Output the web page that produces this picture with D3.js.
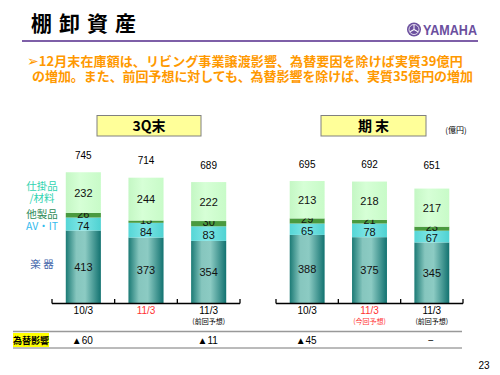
<!DOCTYPE html>
<html>
<head>
<meta charset="utf-8">
<script src="https://cdn.jsdelivr.net/npm/d3@7"></script>
<style>
  body { margin: 0; background: #fff; }
  text { font-family: "Liberation Sans", Arial, sans-serif; }
  .jp { font-family: "Noto Sans CJK JP", sans-serif; }
</style>
</head>
<body>
<div id="chart"></div>
<script>
const width = 500,
    height = 375;

// data
const groups = ["3Q末", "期 末"];
const periods = ["10/3", "11/3", "11/3"];
const periodNotes = [["", "", "(前回予想)"], ["", "(今回予想)", "(前回予想)"]];
const periodColors = ["#000", "#ff3333", "#000"];
const gakki = [[413, 373, 354], [388, 375, 345]];
const avit = [[74, 84, 83], [65, 78, 67]];
const other = [[26, 13, 30], [29, 21, 23]];
const wip = [[232, 244, 222], [213, 218, 217]];
const totals = [[745, 714, 689], [695, 692, 651]];
const fxImpact = [["▲60", "", "▲11"], ["▲45", "", "−"]];

// label nudge: AV-IT labels sit a bit low, thin stripe labels a bit high
const segments = [
    { key: "gakki", values: gakki, fill: "url(#gGakki)", dy: 0 },
    { key: "avit", values: avit, fill: "url(#gAvit)", dy: 1.5 },
    { key: "other", values: other, fill: "#4a9a3f", dy: -1.5 },
    { key: "wip", values: wip, fill: "url(#gWip)", dy: 0 }
];

const svg = d3.select("#chart").append("svg")
    .attr("width", width)
    .attr("height", height);

const defs = svg.append("defs");
function hGrad(id, stops) {
    const g = defs.append("linearGradient").attr("id", id)
        .attr("x1", "0%").attr("x2", "100%").attr("y1", "0%").attr("y2", "0%");
    stops.forEach(s => g.append("stop").attr("offset", s[0]).attr("stop-color", s[1]));
}
hGrad("gGakki", [["0%", "#1b7a75"], ["30%", "#86c6be"], ["55%", "#8ccbc3"], ["100%", "#127270"]]);
hGrad("gAvit", [["0%", "#55d6d6"], ["45%", "#7fe6e6"], ["100%", "#4fd2d2"]]);
hGrad("gWip", [["0%", "#c4f7c4"], ["40%", "#d6ffd6"], ["100%", "#c8fbc8"]]);

// header
svg.append("text").attr("class", "jp")
    .attr("x", 31).attr("y", 31)
    .style("font-size", "21px").style("font-weight", "bold")
    .style("letter-spacing", "7px")
    .text("棚卸資産");

svg.append("line")
    .attr("x1", 22).attr("x2", 478).attr("y1", 41).attr("y2", 41)
    .attr("stroke", "#7e5fa8").attr("stroke-width", 2);

// yamaha logo
const logo = svg.append("g").attr("transform", "translate(414,29.5)");
logo.append("circle").attr("r", 7).attr("fill", "#6b4f9e");
logo.append("circle").attr("r", 5).attr("fill", "none").attr("stroke", "#fff").attr("stroke-width", 0.8);
d3.range(3).forEach(i => {
    logo.append("line")
        .attr("x1", 0).attr("y1", 0).attr("x2", 0).attr("y2", -4.5)
        .attr("stroke", "#fff").attr("stroke-width", 1)
        .attr("transform", `rotate(${i * 120})`);
});
svg.append("text")
    .attr("x", 423).attr("y", 35)
    .attr("textLength", 54).attr("lengthAdjust", "spacingAndGlyphs")
    .style("font-size", "15px").style("font-weight", "bold")
    .style("fill", "#6b4f9e")
    .text("YAMAHA");

// bullet text
const bullet = svg.append("g").style("fill", "#ff9900").style("font-weight", "bold").style("font-size", "13px");
const l1 = bullet.append("text").attr("class", "jp").attr("x", 27).attr("y", 66);
l1.append("tspan").style("font-family", "DejaVu Sans").style("font-size", "14px").text("➢");
l1.append("tspan")
    .attr("textLength", 424).attr("lengthAdjust", "spacing")
    .text("12月末在庫額は、リビング事業譲渡影響、為替要因を除けば実質39億円");
bullet.append("text").attr("class", "jp").attr("x", 32).attr("y", 81)
    .attr("textLength", 441).attr("lengthAdjust", "spacing")
    .text("の増加。また、前回予想に対しても、為替影響を除けば、実質35億円の増加");

// scales
const y = d3.scaleLinear().domain([0, 800]).range([303, 303 - 800 * 0.1755]);
const panelRanges = [[52, 240], [276, 463]];
const boxes = [[97, 104], [321, 105]];

groups.forEach((grp, gi) => {
    const x = d3.scaleBand()
        .domain(d3.range(periods.length))
        .range(panelRanges[gi])
        .paddingInner(0.44)
        .paddingOuter(0.22);
    const panel = svg.append("g");

    // panel title box
    panel.append("rect")
        .attr("x", boxes[gi][0]).attr("y", 115.5)
        .attr("width", boxes[gi][1]).attr("height", 20.5)
        .attr("fill", "#ffff99").attr("stroke", "#808080").attr("stroke-width", 1);
    panel.append("text").attr("class", "jp")
        .attr("x", boxes[gi][0] + boxes[gi][1] / 2).attr("y", 131)
        .attr("text-anchor", "middle")
        .style("font-size", "14px").style("font-weight", "bold")
        .text(grp);

    // stacked bars
    const base = periods.map(() => 0);
    segments.forEach(seg => {
        periods.forEach((p, i) => {
            const v = seg.values[gi][i];
            const y0 = base[i], y1 = base[i] + v;
            base[i] = y1;
            panel.append("rect")
                .attr("x", x(i)).attr("width", x.bandwidth())
                .attr("y", y(y1)).attr("height", y(y0) - y(y1))
                .attr("fill", seg.fill);
            panel.append("text")
                .attr("x", x(i) + x.bandwidth() / 2)
                .attr("y", (y(y0) + y(y1)) / 2 + 4 + seg.dy)
                .attr("text-anchor", "middle")
                .style("font-size", "11px")
                .style("fill", "#111")
                .text(v);
        });
    });

    // totals
    periods.forEach((p, i) => {
        panel.append("text")
            .attr("x", x(i) + x.bandwidth() / 2)
            .attr("y", Math.min(y(totals[gi][i]) - 17, 165) + 3.5)
            .attr("text-anchor", "middle")
            .style("font-size", "10px")
            .text(totals[gi][i]);
    });

    // axis
    const r = x.range();
    panel.append("line")
        .attr("x1", r[0]).attr("x2", r[1]).attr("y1", y(0) + 0.5).attr("y2", y(0) + 0.5)
        .attr("stroke", "#000").attr("stroke-width", 1.3);
    const tickPos = periods.map((p, i) => x(i) - x.step() * x.paddingInner() / 2);
    tickPos[0] = r[0];
    tickPos.push(r[1]);
    tickPos.forEach(t => {
        panel.append("line")
            .attr("x1", t).attr("x2", t).attr("y1", y(0) + 0.5).attr("y2", y(0) - 4)
            .attr("stroke", "#000").attr("stroke-width", 1.3);
    });

    periods.forEach((p, i) => {
        const cx = x(i) + x.bandwidth() / 2;
        panel.append("text")
            .attr("x", cx).attr("y", 314)
            .attr("text-anchor", "middle")
            .style("font-size", "10px")
            .style("fill", periodColors[i])
            .text(p);
        if (periodNotes[gi][i]) {
            panel.append("text").attr("class", "jp")
                .attr("x", cx).attr("y", 323.5)
                .attr("text-anchor", "middle")
                .style("font-size", "7px")
                .style("fill", periodColors[i])
                .text(periodNotes[gi][i]);
        }
        if (fxImpact[gi][i]) {
            panel.append("text")
                .attr("x", cx - 1).attr("y", 344)
                .attr("text-anchor", "middle")
                .style("font-size", "10px")
                .text(fxImpact[gi][i]);
        }
    });
});

// legend labels at left
const legend = [
    { t: "仕掛品", y: 189.5, c: "#2fd3b0" },
    { t: "/材料", y: 202, c: "#2fd3b0" },
    { t: "他製品", y: 217.5, c: "#2e8b57" },
    { t: "AV・IT", y: 230, c: "#33bbee" },
    { t: "楽 器", y: 268, c: "#4466aa" }
];
svg.selectAll(".leg").data(legend).join("text")
    .attr("class", "jp")
    .attr("x", 42).attr("y", d => d.y)
    .attr("text-anchor", "middle")
    .style("font-size", "10.5px")
    .style("fill", d => d.c)
    .text(d => d.t);

svg.append("text").attr("class", "jp")
    .attr("x", 456).attr("y", 133)
    .attr("text-anchor", "middle")
    .style("font-size", "8px")
    .text("(億円)");

// fx row
svg.append("line").attr("x1", 13).attr("x2", 462).attr("y1", 331.5).attr("y2", 331.5)
    .attr("stroke", "#999").attr("stroke-width", 1.5);
svg.append("line").attr("x1", 13).attr("x2", 462).attr("y1", 348).attr("y2", 348)
    .attr("stroke", "#777").attr("stroke-width", 1);
svg.append("rect").attr("x", 13).attr("y", 333).attr("width", 36).attr("height", 14)
    .attr("fill", "#ffff00");
svg.append("text").attr("class", "jp")
    .attr("x", 31).attr("y", 343.5)
    .attr("text-anchor", "middle")
    .style("font-size", "9px").style("font-weight", "bold")
    .text("為替影響");

svg.append("text")
    .attr("x", 484).attr("y", 369)
    .attr("text-anchor", "middle")
    .style("font-size", "10px")
    .text("23");
</script>
</body>
</html>
